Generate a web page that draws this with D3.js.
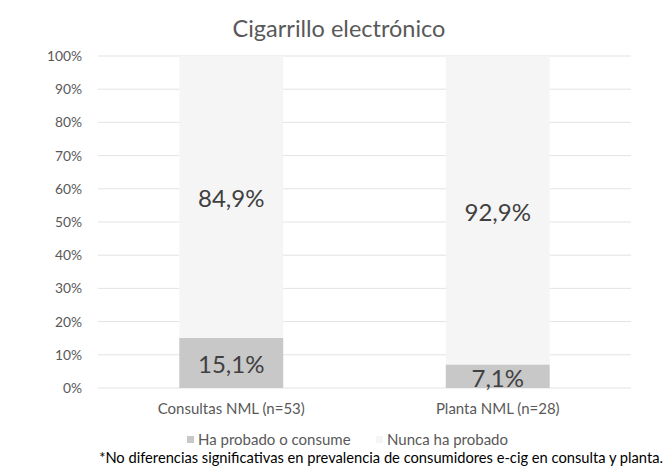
<!DOCTYPE html>
<html><head><meta charset="utf-8">
<script src="https://cdn.jsdelivr.net/npm/d3@7"></script>
<style>body{margin:0;background:#fff;} svg{display:block;font-family:Lato, "Open Sans", sans-serif;}</style>
</head><body>
<svg id="c" width="671" height="472"></svg>
<script>
const categories = ["Consultas NML (n=53)", "Planta NML (n=28)"];
const seriesNames = ["Ha probado o consume", "Nunca ha probado"];
const haProbado = [15.1, 7.1];
const nuncaProbado = [84.9, 92.9];
const tickValues = [0,10,20,30,40,50,60,70,80,90,100];
const colors = ["#c8c8c8", "#f5f5f5"];

const svg = d3.select("#c");
const m = {l:98, r:40, t:56, b:84};
const W = 671, H = 472;
const x = d3.scaleBand().domain(categories).range([m.l, W - m.r]).paddingInner(0.61).paddingOuter(0.305);
const y = d3.scaleLinear().domain([0,100]).range([H - m.b, m.t]);

// gridlines
svg.append("g").selectAll("line").data(tickValues).join("line")
  .attr("x1", m.l).attr("x2", W - m.r)
  .attr("y1", d => y(d)).attr("y2", d => y(d))
  .attr("stroke", "#e3e3e3").attr("stroke-width", 1);

// y axis labels
const ya = svg.append("g").attr("transform", `translate(${m.l - 16},0)`)
  .call(d3.axisLeft(y).tickValues(tickValues).tickFormat(d => d + "%").tickSize(0).tickPadding(0));
ya.select(".domain").remove();
ya.selectAll("text").attr("fill", "#595959").style("font-size", "13.8px").style("font-family", "Lato, sans-serif");

// stacked data
const rows = categories.map((c,i) => ({cat:c, a:haProbado[i], b:nuncaProbado[i]}));
const stack = d3.stack().keys(["a","b"])(rows);
const g = svg.append("g");
stack.forEach((s, si) => {
  g.append("g").selectAll("rect").data(s).join("rect")
    .attr("x", d => x(d.data.cat)).attr("width", x.bandwidth())
    .attr("y", d => y(d[1])).attr("height", d => y(d[0]) - y(d[1]))
    .attr("fill", colors[si]);
  g.append("g").selectAll("text").data(s).join("text")
    .attr("x", d => x(d.data.cat) + x.bandwidth()/2)
    .attr("y", d => (y(d[0]) + y(d[1]))/2 + 2)
    .attr("dy", "0.35em").attr("text-anchor", "middle")
    .attr("fill", "#404040").style("font-size", "24px")
    .text(d => d3.format(".1f")(d[1]-d[0]).replace(".", ",") + "%");
});

// x axis labels
const xa = svg.append("g").attr("transform", `translate(0,${H - m.b})`)
  .call(d3.axisBottom(x).tickSize(0).tickPadding(15));
xa.select(".domain").remove();
xa.selectAll("text").attr("fill", "#595959").style("font-size", "15px").style("font-family", "Lato, sans-serif");

// title
svg.append("text").attr("x", 339).attr("y", 29).attr("dy", "0.35em")
  .attr("text-anchor", "middle").attr("fill", "#595959").style("font-size", "23.5px")
  .text("Cigarrillo electrónico");

// legend
const legX = [187, 376];
const leg = svg.append("g");
seriesNames.forEach((n, i) => {
  leg.append("rect").attr("x", legX[i]).attr("y", 436).attr("width", 7).attr("height", 7).attr("fill", colors[i]);
  leg.append("text").attr("x", legX[i] + 11).attr("y", 440).attr("dy", "0.35em")
    .attr("fill", "#595959").style("font-size", "15px").text(n);
});

// footnote
svg.append("text").attr("x", 663).attr("y", 458).attr("dy", "0.35em").attr("text-anchor", "end")
  .attr("fill", "#000").style("font-size", "14.7px")
  .text("*No diferencias significativas en prevalencia de consumidores e-cig en consulta y planta.");
</script>
</body></html>
